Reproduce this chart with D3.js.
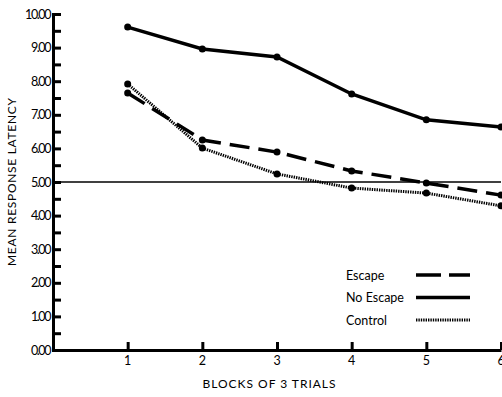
<!DOCTYPE html>
<html>
<head>
<meta charset="utf-8">
<script src="https://cdn.jsdelivr.net/npm/d3@7"></script>
<style>
body{margin:0;background:#fff;}
text{font-family:"Lato","DejaVu Sans",sans-serif;fill:#000;}
</style>
</head>
<body>
<div id="chart"></div>
<script>
// data
var blocks=[1,2,3,4,5,6];
var escape=[7.65,6.25,5.89,5.33,4.97,4.61];
var noEscape=[9.61,8.96,8.72,7.62,6.85,6.64];
var control=[7.92,6.01,5.24,4.82,4.67,4.29];
var yTicks=[0,1,2,3,4,5,6,7,8,9,10];
var series=[
  {name:"Escape", values:escape, dash:"20,9"},
  {name:"No Escape", values:noEscape, dash:null},
  {name:"Control", values:control, dash:"1.4,1"}
];

var margin={top:14, left:53, bottom:47, right:1};
var width=502-margin.left-margin.right;
var height=397-margin.top-margin.bottom;

var svg=d3.select("#chart").append("svg").attr("width",502).attr("height",397);
var g=svg.append("g").attr("transform","translate("+margin.left+","+margin.top+")");

var x=d3.scaleLinear().domain([0,6]).range([0,width]);
var y=d3.scaleLinear().domain([0,10]).range([height,0]);

//reference line at 5.00
g.append("line").attr("x1",0).attr("x2",width).attr("y1",y(5)).attr("y2",y(5))
  .attr("stroke","#000").attr("stroke-width",1.5);

//Y axis
var yAxis=g.append("g").call(d3.axisRight(y).tickValues(d3.range(0,10.01,0.5)).tickSize(8).tickFormat(""));
yAxis.select(".domain").attr("stroke-width",3);
yAxis.selectAll(".tick line").attr("stroke-width",3);
g.selectAll(".ylab").data(yTicks).enter().append("text").attr("class","ylab")
  .attr("x",-3).attr("y",function(d){return y(d)+4.5;})
  .attr("text-anchor","end").attr("font-size","12.5px").attr("letter-spacing","-1.4px")
  .text(function(d){return d.toFixed(2);});

//X axis
var xAxis=g.append("g").attr("transform","translate(0,"+height+")")
  .call(d3.axisTop(x).tickValues(blocks).tickSize(8).tickSizeOuter(0).tickFormat(""));
xAxis.select(".domain").attr("stroke-width",3);
xAxis.selectAll(".tick line").attr("stroke-width",3);
g.selectAll(".xlab").data(blocks).enter().append("text").attr("class","xlab")
  .attr("x",function(d){return x(d);}).attr("y",height+15)
  .attr("text-anchor","middle").attr("font-size","12.5px").text(function(d){return d;});

//Axis labels
g.append("text").attr("x",x(3)-8).attr("y",height+38).attr("text-anchor","middle")
  .attr("font-size","12px").attr("textLength",133).attr("lengthAdjust","spacing")
  .text("BLOCKS OF 3 TRIALS");
g.append("text").attr("transform","rotate(-90)").attr("x",-(y(5))).attr("y",-37)
  .attr("text-anchor","middle").attr("font-size","12px")
  .attr("textLength",168).attr("lengthAdjust","spacing")
  .text("MEAN RESPONSE LATENCY");

//lines
var line=d3.line().x(function(d,i){return x(blocks[i]);}).y(function(d){return y(d);});
series.forEach(function(s){
  g.append("path").datum(s.values).attr("d",line).attr("fill","none")
    .attr("stroke","#000").attr("stroke-width",s.dash==="1.4,1"?3:3.5)
    .attr("stroke-dasharray",s.dash);
  g.selectAll(null).data(s.values).enter().append("circle")
    .attr("cx",function(d,i){return x(blocks[i]);}).attr("cy",function(d){return y(d);})
    .attr("r",3.5).attr("fill","#000");
});

//legend
var leg=g.selectAll(".leg").data(series).enter().append("g")
  .attr("transform",function(d,i){return "translate(293,"+(261+i*22.5)+")";});
leg.append("text").attr("x",0).attr("y",4.5).attr("font-size","12.5px").text(function(d){return d.name;});
leg.append("line").attr("x1",70).attr("x2",124).attr("y1",0).attr("y2",0)
  .attr("stroke","#000").attr("stroke-width",function(d){return d.dash==="1.4,1"?3:3.5;})
  .attr("stroke-dasharray",function(d){return d.dash==="20,9"?"25,8":d.dash;});
</script>
</body>
</html>
